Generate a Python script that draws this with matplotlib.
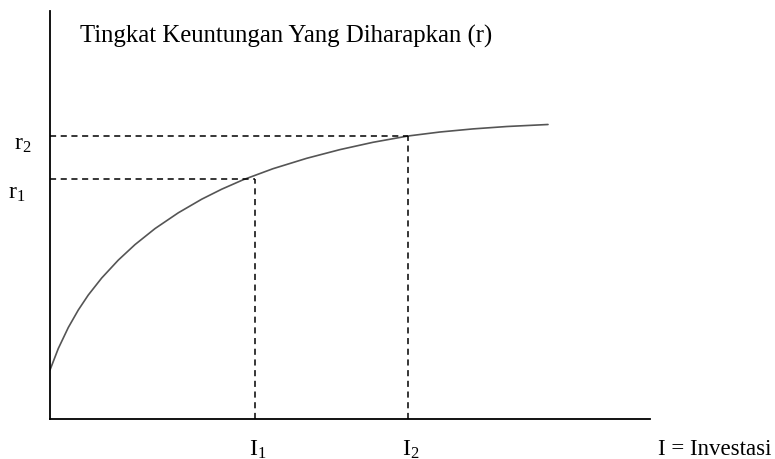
import matplotlib.pyplot as plt

plt.rcParams['font.family'] = ['Liberation Serif', 'DejaVu Serif']
plt.rcParams['mathtext.fontset'] = 'custom'
plt.rcParams['mathtext.rm'] = 'Liberation Serif'
plt.rcParams['mathtext.it'] = 'Liberation Serif:italic'

# Curve (investment vs expected return)
invest = [0.0, 0.083, 0.183, 0.283, 0.383, 0.517, 0.683, 0.85, 1.05, 1.283,
          1.517, 1.717, 1.933, 2.23, 2.567, 2.90, 3.23, 3.58, 3.90, 4.23,
          4.57, 4.98]
ret = [0.49, 0.705, 0.915, 1.09, 1.24, 1.41, 1.589, 1.744, 1.904, 2.062,
       2.198, 2.298, 2.393, 2.503, 2.607, 2.694, 2.767, 2.83, 2.87, 2.901,
       2.925, 2.945]

# the two marked points
i_vals = [2.05, 3.58]
r_vals = [2.40, 2.83]
i_labels = [r'$\mathrm{I}_1$', r'$\mathrm{I}_2$']
r_labels = [r'$\mathrm{r}_1$', r'$\mathrm{r}_2$']

title = "Tingkat Keuntungan Yang Diharapkan (r)"
xlabel = "I = Investasi"

fig = plt.figure(figsize=(7.75, 4.6), dpi=100)
ax = fig.add_axes([50 / 775, 40 / 460, 600 / 775, 408 / 460])
ax.set_xlim(0, 6)
ax.set_ylim(0, 4.08)

ax.plot(invest, ret, color='#555555', lw=1.2, solid_capstyle='round',
        solid_joinstyle='round')

for xi, yi in zip(i_vals, r_vals):
    ax.plot([0, xi], [yi, yi], color='black', lw=1.1, ls=(0, (4, 3)))
    ax.plot([xi, xi], [0, yi], color='black', lw=1.1, ls=(0, (4, 3)))

for s in ['top', 'right']:
    ax.spines[s].set_visible(False)
for s in ['left', 'bottom']:
    ax.spines[s].set_linewidth(1.3)
ax.set_xticks([])
ax.set_yticks([])

# labels
ax.text(0.3, 3.84, title, fontsize=17.8, ha='left', va='center')
ax.text(-0.19, 2.76, r_labels[1], fontsize=17, ha='right', va='center')
ax.text(-0.25, 2.27, r_labels[0], fontsize=17, ha='right', va='center')
for xi, lab in zip(i_vals, i_labels):
    ax.text(xi + 0.03, -0.3, lab, fontsize=17, ha='center', va='center')
ax.text(6.08, -0.3, xlabel, fontsize=16.5, ha='left', va='center')

fig.savefig('out.png', dpi=100)
